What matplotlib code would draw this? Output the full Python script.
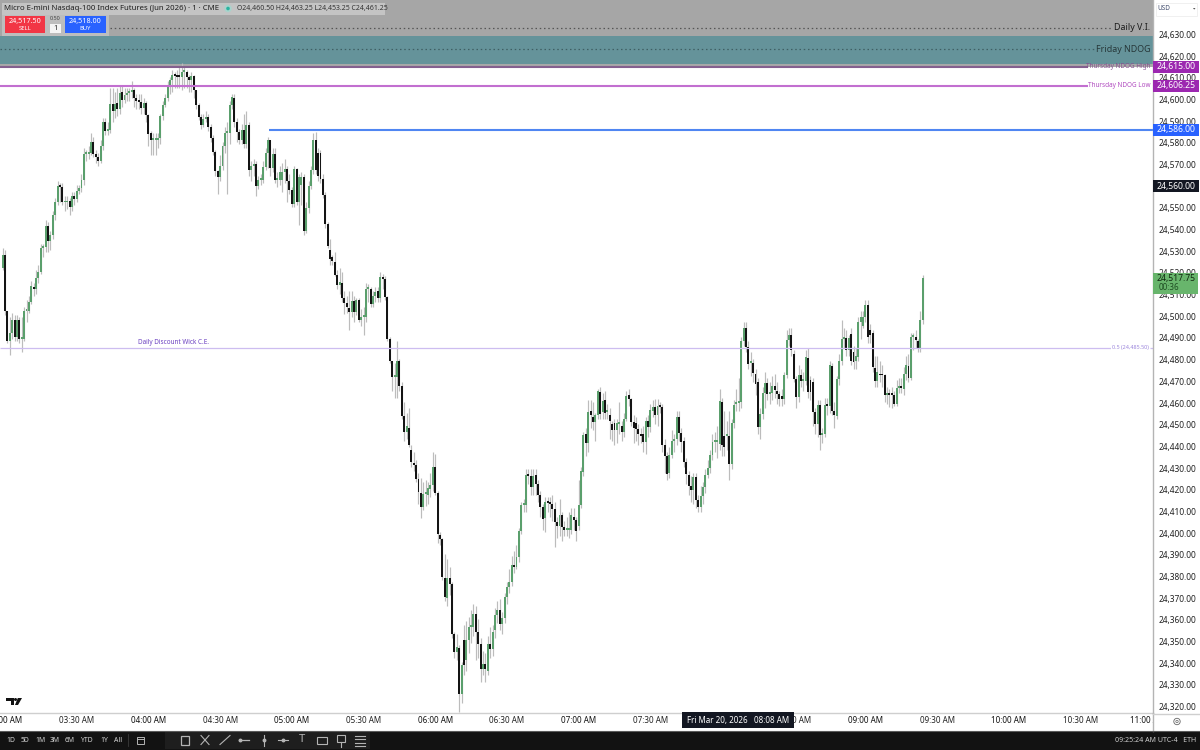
import numpy as np
import matplotlib
matplotlib.use('Agg')
import matplotlib.pyplot as plt
from matplotlib.patches import Rectangle, Circle, Polygon
from matplotlib.ticker import FuncFormatter

plt.rcParams['font.family'] = ['Noto Sans', 'DejaVu Sans']

# prices are stored as offset from the base, one row = 10 one minute bars
PRICE_BASE = 23999.5
opens = [
    523,529,503,489,493,499,491,499,490,490,503,
    503,507,514,513,518,521,532,532.5,542,535,
    538,547,553,560.5,560,553,553,553.5,551,556,
    554.5,558.5,559.5,563.5,575.5,575.5,576,581,575.5,574,
    572,579,590,586,586.5,598.5,595,599,596,604,
    600.5,602.5,603.5,604,605,601,600,599.5,596.5,599,
    593.5,585,582,582,582,582.7,593,598,601,606.7,
    609.3,612,611.3,611,611,613,613,611,609.3,611.3,
    604.7,597.8,592.4,588.6,591.7,592.4,587.8,582.7,576.3,567.4,
    564.8,570,579,585,585,597.8,601,590,585.5,581.7,
    586.3,580,588.6,567.8,570,570.9,560.6,563.2,563.2,569.4,
    576,581.7,569,575.5,563.2,563.2,563.2,567,568.3,563,
    558.6,552.4,568.3,553,561,564.8,540,550.6,560.6,567.8,
    582,576,576,564,556.6,543,531,527.8,525.5,519.4,
    515,516,509,506.8,504.4,502.5,507.4,502.5,507.8,499,
    500,500,513,513,506.3,510,512,508.8,518.6,517.8,
    509.4,489.8,479.7,472.5,472.5,480,468.5,454.5,447,449,
    439,433,432,425.6,419,412.5,418.7,418,421,422.5,
    431,419,399.5,397.6,380,370.6,379.8,377.2,354,345.7,
    347.5,326.4,351,341.8,351,357,357,363.3,355,349.5,
    337.7,340,337,349.5,347,355.6,362.5,365,358.7,361.5,
    371,375.6,378,385.6,385,389.5,401.3,413.3,413.6,427,
    426.7,421.8,427.5,423.3,418.2,412.5,407.5,415,414.5,414,
    411.8,405.6,403.8,408.7,403.3,402,402,402,408,406.4,
    403.8,413.6,428.7,446.4,442.2,456.6,454,451.7,455,465.6,
    456.4,461.7,456.4,455,451,451.4,447.9,451,449.9,447,
    453.3,464.3,462.5,451.7,451.5,448.7,446,446.3,442.5,452,
    449.4,457,458.6,454.8,459,458.6,441.2,436,428.3,436.6,
    442.8,444,454,446.8,443.2,433.3,427.5,422.2,420.2,426.3,
    415.6,412.5,417.6,421.7,427.1,430.5,436.6,442.5,442.5,441.7,
    460.9,445.5,445.5,445.5,432.5,451.4,460,460.6,460.9,488.9,
    495,486.3,478.9,478.9,474,470,449.4,455.5,465.2,469.8,
    464.8,465.2,468.3,466,464.8,463.5,462.2,473.2,489.4,492,
    483,471.7,463.2,473.5,470.5,470.5,481.2,470.9,470,456.3,
    450.9,459.4,445.9,446.3,459.4,459,477.5,457,454.5,471.4,
    480,490,490.5,484.8,492.4,484,480,481.7,497.8,496,
    500,505.8,494,492.9,476.6,470.5,474,473.5,473.2,464.3,
    464.3,464.3,464,460.2,467.4,468,467,474,477.5,472,
    491,491,489,485.8,499,
]
closes = [
    529,503,489,493,499,491,499,490,490,503,503,
    507,514.5,513,518,521,532,532.5,542,535,538,
    547,553,560.5,560,553,553,553.5,551,556,554.5,
    558.5,559.5,563.5,575.5,575.5,576,581,575.5,574,572,
    579,590,585.8,586.5,598.5,595,598.5,596,603.6,600.5,
    602.5,603.5,604,605,601,600,599.5,596.5,599,593.5,
    584.7,581.7,582,582,582.7,593,598,601,606.7,609.3,
    612,611.3,611,610.8,613.2,613,611,609.3,611.3,604.7,
    597.8,592.4,588.6,591.7,592.4,587.8,582.7,576.3,567.4,564.8,
    570,579,585,585,597.8,601.6,590,585.5,581.7,586.3,
    580,588.6,567.8,569.8,570.9,560.6,563.2,563.2,569.4,576,
    581.7,569,575.5,563.2,563.2,567,567,568.3,563,558.6,
    552.4,568.3,553,564.8,564.8,540,550.6,560.6,567.8,582,
    568,565,564,556.6,543,533,527,525.8,519.4,515,
    516.3,509,506.8,504.8,502.5,507.4,502.5,507.8,499,500,
    500,513,513,506.3,510,511.7,508.8,518.6,517.8,509.4,
    489.8,479.7,472.5,472.5,480,468.5,454.5,447,450,441,
    433.5,432,425.6,419.5,412.5,418.7,418.7,421.3,422.5,431,
    419,400,397.6,380.2,371,379.8,377,354,345.7,348,
    326.4,339.5,339.5,351,357,357,363.3,355,349.5,337.7,
    340.1,338,349.5,347,355,362.5,365,358.7,361.5,371,
    375.6,378,385.6,385,389.5,401.3,413.3,413.6,427.1,426.7,
    421.8,426.8,423.3,418.2,412.5,407,415,414.5,414,411.8,
    405.6,403.8,408.7,403.3,401.8,402,402.5,409,406.4,401.3,
    413.6,429,445.9,442.2,456.4,454.8,451.7,455,465.9,455.6,
    461.3,456,456.4,452,447.9,447.9,451.4,451,447,453.3,
    463.7,462.5,451.7,449,448.7,446,445.5,442.5,452,449.4,
    457.1,458.6,454.8,459,458.6,441.2,436,427.9,436.6,442.8,
    444,454,446.8,442.5,433.3,427.9,422.2,420.2,426.3,415.6,
    412.5,417.6,421.7,427.1,430.5,436.6,442.5,442.8,442.5,461.2,
    440.9,440.2,445.5,432.5,451.4,459.7,460.6,460.6,488.9,495,
    486.3,478.3,478.9,474.5,469.4,449.4,455.5,465.2,469.8,464.8,
    465.2,468.3,466.3,464.8,462.2,462.2,473.2,489.4,492,484.8,
    471.7,463.2,473.5,470.5,470.5,481.7,465.5,465.5,456.3,450.9,
    459.4,445.9,446.3,459.4,459,477.8,457,454.8,471.4,480,
    490.1,490.1,484.8,490.5,480,479.4,482,497.8,500,500,
    505.8,490.9,491.7,477,470.5,474.8,473.2,473.2,464.3,464.3,
    464,464,460.2,467.4,468.3,467.4,474,477.8,472,491,
    491,489.4,485.5,499,518.25,
]
highs = [
    532,531,503,500,502,501,501,500,500,505,508,
    510,517,516,522,524,534,534,545,544,540,
    549,555,563,562,562,556,556,555,558,558,
    561,561,566,578,577,579,585,583,577,576,
    582,592,592,590,606,606,604,606,607,607,
    606,606,606,609,606,603,603,603,601,600,
    594,586,585,585,585,594,600,603,609,611,
    614,613,614,616,617.5,616,614,612,613,612,
    605,599,594,594,595,594,589,584,577,568,
    575,581,588,590,600,603,603,592,587,589,
    594,595,590,572,573,572,565,566,572,578,
    583,582,578,578,567,570,571,573,570,566,
    560,570,569,566,567,566,553,563,570,585,
    585.5,578,577,566,558,544,536,529,530,522,
    523,521,512,510,512,512,510,509,509,504,
    505,516,515.5,514,512,514,514,521,520,519,
    510,491,480,479,489,481,470,461,456,458,
    441,438,434,428,426,424,425,424,428,438,
    437,420,401,398,391,388.7,385,378,355,354,
    349,341,358,360,362,365,368,367,361,352,
    346,345,353,357,358,366,369,370,364,373,
    378,384,390,392,395,403,415,416,430,430,
    430,430,430,425,420,414,417,417,417,418,
    415,408,416,410,406,408,410,412,412,408,
    425,431,447,449,462,462,461,456,467,468,
    465,466,460,458,452,453,453,461,452,456,
    466,467,463,455,454,451,449,450,454,455,
    460,462,462.5,462.5,461,460,444,438,440,448,
    446,457,457,449,445,435,429,427,428,428,
    418,422,424,430,434,439,446,447,450,467,
    463,457,452,457,453,462,467,472,491,498,
    498,489,484,481,476,472,458,468,475,472,
    470,473,474,470,466,467,475,494,495,495,
    485,473,477.8,476,475,485,486,473,472,458,
    462,462,449,463,463,480,479,461,473,483,
    499,495,494,492,495,487,486,500,503,503,
    508,508,497,494,482,482,480,478,474,468,
    467,468,466,471,472,472,477,482,483,493,
    493,494,490,503,519.5,
]
lows = [
    522,501,488,482.5,490,489,489,488,484,489,498,
    502,506,510,511,516,520,528,530,530,531,
    536,545,552,553,552,549,550,547,549,552,
    553,557,558,561,572,573,575,574,571,570,
    571,577,584,584,585,590,592,593,594,597,
    599,600,600,601,597,596,596,594,594,590,
    579,575,575,575,578,580,591,597,600,603,
    604,606,606,606,605,606,606,604,604,601,
    596,591,587,588,590,586,581,575,565,557,
    563,568,576,557,580,596,588,581,580,580,
    578,578,565,563,565,556,559,561,562,568,
    569,565,567,562,560,561,558,562,553,557,
    551,551,552,542.5,552,538,539,548,559,566,
    566,563,562,555,541,532,524,524,519,513,
    511,507,501.7,502,494,500,498,501,498,496,
    491.7,498,507,505,505,507,507,507,513,508,
    489,479,466,463,463,466,453,443,444,440,
    431,429,424,414,407.6,411,413,414,417,420,
    418,396,395,379,369,367,372,352,343,342,
    318,322,335,337,345,350,353,342,343,332,
    335,332,335,343,344,352,359,356,354,359,
    368,373,376,382,384,387,400,410,410,423,
    418,418,418,415,408,402,401,410,408,406,
    394,398,399,397,399,399,398,400,402,397,
    402,412,427,436,438,449,448,443,453,453,
    453,453,453,444,443,441,442,446,443,445,
    452,459,450,442,443,441,442,438,437,445,
    447,454,451,450,456,438,428,425,426,435,
    438,441,443,438,431,423,418,415,414,412,
    410,410,414,419,426,428,434,438,435,439,
    436,436,439,425,430,449,457,457,458,487,
    484,476,473,470,464,446,444,453,458,462,
    460,462,463,460,459,459,460,472,487,482,
    470,458,461,468,466,469,463,462,450,446,
    445,439,442,445,455,456,455,449,453,469,
    478,486,482,482,478,476,476,480,490,495,
    498,488,488,475,468,468,470,468,461,460,
    458.5,458,459,459,465,465,464,471,470,471,
    485,486,484,484,497,
]

price_ticks = list(range(24320, 24631, 10))
time_ticks = [0, 30, 60, 90, 120, 150, 180, 210, 240, 270, 300, 330, 360, 390, 420, 450, 478]
time_labels = ['03:00 AM', '03:30 AM', '04:00 AM', '04:30 AM', '05:00 AM', '05:30 AM', '06:00 AM',
               '06:30 AM', '07:00 AM', '07:30 AM', '08:00 AM', '08:30 AM', '09:00 AM', '09:30 AM',
               '10:00 AM', '10:30 AM', '11:00 AM']
range_buttons = ['1D', '5D', '1M', '3M', '6M', 'YTD', '1Y', 'All']
range_button_x = [11, 25, 40, 55, 70, 87, 104, 118]

opens = PRICE_BASE + np.array(opens)
closes = PRICE_BASE + np.array(closes)
highs = PRICE_BASE + np.array(highs)
lows = PRICE_BASE + np.array(lows)
minutes = np.arange(len(closes)) - 1

GREEN = '#5a9f6c'
BLACK = '#141414'
WICK = '#bcbcbc'
PURPLE_TAG = '#9c27b0'
BLUE = '#2962ff'
W, H = 1200.0, 750.0
X_MIN, X_MAX = -2.09, 480.3
Y_MIN, Y_MAX = 24317.0, 24645.9

fig = plt.figure(figsize=(12, 7.5), dpi=100, facecolor='white')
ax = fig.add_axes([0, 37 / H, 1153 / W, 713 / H])
ax.set_xlim(X_MIN, X_MAX)
ax.set_ylim(Y_MIN, Y_MAX)

# zones behind the candles
ax.axhspan(24629.3, Y_MAX, color='#a6a6a6', lw=0, zorder=0)
ax.axhspan(24616.4, 24629.3, color='#65939a', lw=0, zorder=0)
ax.axhspan(24615, 24616.4, color='#a8a8a8', lw=0, zorder=0)
ax.hlines(24633, 44, 463, color='#555555', lw=0.9, linestyles=(0, (1.2, 2.2)), zorder=1)
ax.hlines(24623.2, X_MIN, 457, color='#3f5f63', lw=0.9, linestyles=(0, (1.2, 2.2)), zorder=1)

up = closes >= opens
ax.vlines(minutes, lows, highs, color=WICK, lw=0.85, zorder=2)
heights = np.maximum(np.abs(closes - opens), 0.9)
bottoms = np.minimum(opens, closes)
ax.bar(minutes[up], heights[up], bottom=bottoms[up], width=0.82, color=GREEN, lw=0, zorder=3)
ax.bar(minutes[~up], heights[~up], bottom=bottoms[~up], width=0.82, color=BLACK, lw=0, zorder=3)

ax.hlines(24615, X_MIN, 453, color='#84608f', lw=1.5, zorder=4)
ax.hlines(24606.25, X_MIN, 453, color='#c26fd0', lw=1.5, zorder=4)
ax.hlines(24586, 110.6, X_MAX, color='#4f86f2', lw=1.5, zorder=4)
ax.hlines(24485.5, X_MIN, 475, color='#cdbdf0', lw=0.9, zorder=4)
ax.hlines(24485.5, 479, X_MAX, color='#cdbdf0', lw=0.9, zorder=4)

ax.text(70.5, 24487.8, 'Daily Discount Wick C.E.', fontsize=4.6, color='#6a3fc0', ha='center', va='center', zorder=5)
ax.text(478.5, 24485.7, '0.5 (24,485.50)', fontsize=3.9, color='#9c86dc', ha='right', va='center', zorder=5,
        bbox=dict(fc='white', ec='none', pad=0.6))
ax.text(479.3, 24633, 'Daily V.I.', fontsize=6.4, color='#1c1c1c', ha='right', va='center', zorder=5,
        fontweight='semibold', bbox=dict(fc='#a6a6a6', ec='none', pad=1))
ax.text(479.3, 24623.2, 'Friday NDOG', fontsize=6.4, color='#27383a', ha='right', va='center', zorder=5,
        fontweight='semibold', bbox=dict(fc='#65939a', ec='none', pad=1))
ax.text(479.3, 24615, 'Thursday NDOG High', fontsize=4.6, color='#84508f', ha='right', va='center', zorder=5)
ax.text(479.3, 24606.25, 'Thursday NDOG Low', fontsize=4.6, color='#b14cc0', ha='right', va='center', zorder=5)

ax.set_xticks(time_ticks)
ax.set_xticklabels(time_labels, fontsize=5.8, color='#222222')
for lab, t in zip(ax.get_xticklabels(), time_ticks):
    if t in (0, 60, 120, 180, 240, 300, 360, 420, 478):
        lab.set_fontweight('semibold')
        lab.set_color('#111111')
ax.tick_params(axis='x', length=0, pad=2.2)
ax.tick_params(axis='y', left=False, labelleft=False)
for s in ['top', 'right', 'left']:
    ax.spines[s].set_visible(False)
ax.spines['bottom'].set_color('#cfcfcf')
ax.spines['bottom'].set_linewidth(1.0)

# price scale panel, same y scale as the chart
ax_p = fig.add_axes([1153 / W, 37 / H, 47 / W, 713 / H], zorder=1, facecolor='white')
ax_p.set_xlim(0, 1)
ax_p.set_ylim(Y_MIN, Y_MAX)
ax_p.set_xticks([])
ax_p.yaxis.tick_right()
ax_p.set_yticks(price_ticks)
ax_p.yaxis.set_major_formatter(FuncFormatter(lambda v, p: f'{v:,.2f}'))
ax_p.tick_params(axis='y', length=0, pad=-30, labelsize=6.0, labelcolor='#222222')
for s in ['top', 'right', 'bottom']:
    ax_p.spines[s].set_visible(False)
ax_p.spines['left'].set_color('#b4b4b4')
ax_p.spines['left'].set_linewidth(1.0)

tags = [(24615, '24,615.00', PURPLE_TAG), (24606.25, '24,606.25', PURPLE_TAG),
        (24586, '24,586.00', BLUE), (24560, '24,560.00', '#131722')]
for price, label_txt, col in tags:
    ax_p.barh(price, 0.96, height=5.6, left=0.01, color=col, lw=0, zorder=5)
    ax_p.text(0.49, price, label_txt, color='white', fontsize=6.2, ha='center', va='center', zorder=6)
ax_p.barh(24515.15, 0.95, height=9.7, left=0.01, color='#68b56c', lw=0, zorder=5)
ax_p.text(0.49, 24517.6, '24,517.75', color='#10280f', fontsize=6.2, ha='center', va='center', zorder=6)
ax_p.text(0.13, 24513.4, '00:36', color='#1e4d22', fontsize=5.8, ha='left', va='center', zorder=6)

# chrome drawn in pixel coordinates on a top layer
ui = fig.add_axes([0, 0, 1, 1], zorder=3, facecolor='none')
ui.set_xlim(0, W)
ui.set_ylim(H, 0)
ui.axis('off')

def box(x, y, w, h, col, **kw):
    ui.add_patch(Rectangle((x, y), w, h, fc=col, ec=kw.pop('ec', 'none'), lw=kw.pop('lw', 0), **kw))

def label(x, y, s, size=6.2, col='white', ha='center', **kw):
    ui.text(x, y, s, fontsize=size, color=col, ha=ha, va='center', **kw)

# header
box(2, 3, 383, 12, '#c4c4c4')
box(2, 15, 107, 21, '#bdbdbd')
label(4, 8.5, 'Micro E-mini Nasdaq-100 Index Futures (Jun 2026) · 1 · CME', size=5.6, col='#1d1d1d', ha='left')
ui.add_patch(Circle((228, 8.5), 3.8, fc='#a9d3cc', ec='none'))
ui.add_patch(Circle((228, 8.5), 1.8, fc='#2bb3a0', ec='none'))
label(237, 8.5, 'O24,460.50 H24,463.25 L24,453.25 C24,461.25', size=5.0, col='#333333', ha='left')
box(5, 16, 40, 17, '#f23645')
label(25, 21, '24,517.50', size=5.2, fontweight='bold')
label(25, 28.5, 'SELL', size=4.2)
box(65, 16, 41, 17, BLUE)
label(85.5, 21, '24,518.00', size=5.2, fontweight='bold')
label(85.5, 28.5, 'BUY', size=4.2)
label(55, 19, '0.50', size=3.9, col='#444444')
box(50, 24, 11, 9, '#f4f4f4')
label(55.5, 28.5, '1', size=5.2, col='#222222')

# USD selector
box(1156, 3, 41, 13, 'white', ec='#eeeeee', lw=0.6)
label(1157, 8.5, 'USD', size=4.6, col='#3f4a6b', ha='left')
ui.add_patch(Polygon([[1193, 8], [1195.5, 8], [1194.2, 9.6]], fc='#555555', ec='none'))

# crosshair time tag and scale corner
box(1153, 714, 47, 17, 'white')
ui.plot([1153, 1153], [713, 731], color='#b4b4b4', lw=1.0)
ui.plot([1153, 1200], [713.5, 713.5], color='#cfcfcf', lw=1.0)
ui.add_patch(Circle((1177, 721.5), 3.2, fc='none', ec='#666666', lw=0.6))
ui.add_patch(Circle((1177, 721.5), 1.2, fc='none', ec='#666666', lw=0.5))
box(682, 712, 112, 16, '#131722')
label(738, 720.5, 'Fri Mar 20, 2026   08:08 AM', size=5.8)

# tradingview logo
ui.add_patch(Polygon([[6, 698], [14, 698], [14, 705], [11, 705], [11, 701], [6, 701]], fc='#111111', ec='none'))
ui.add_patch(Polygon([[15, 705], [17.8, 698], [22, 698], [18, 705]], fc='#111111', ec='none'))
ui.add_patch(Circle((15.5, 699.5), 1.5, fc='#111111', ec='none'))

# bottom toolbar
box(0, 731, W, 19, '#121212')
ui.plot([0, W], [730.5, 730.5], color='#5a5a5a', lw=0.8)
for bx, b in zip(range_button_x, range_buttons):
    label(bx, 740, b, size=4.9, col='#d8d8d8')
ui.plot([128, 128], [734, 746], color='#3a3a3a', lw=0.6)
box(165, 732, 205, 17, '#1e1e1e')

ic = '#b4b4b4'
ui.add_patch(Rectangle((136.5, 736.5), 7, 7, fc='none', ec=ic, lw=0.7))
ui.plot([136.5, 143.5], [738.5, 738.5], color=ic, lw=0.7)
ui.add_patch(Rectangle((181, 735.5), 8, 9, fc='none', ec=ic, lw=0.9))
ui.plot([201, 209], [735.5, 744.5], color=ic, lw=0.8)
ui.plot([209, 201], [735.5, 744.5], color=ic, lw=0.8)
ui.plot([220, 230], [744.5, 735.5], color=ic, lw=0.8)
ui.plot([239, 249], [740, 740], color=ic, lw=0.9)
ui.plot([239.5], [740], 'o', ms=1.8, color=ic)
ui.plot([264, 264], [734.5, 745.5], color=ic, lw=0.8)
ui.plot([264], [740], 'o', ms=1.8, color=ic)
ui.plot([278, 288], [740, 740], color=ic, lw=0.8)
ui.plot([283], [740], 'o', ms=1.8, color=ic)
label(302, 740, 'T', size=8, col=ic)
ui.add_patch(Rectangle((317, 736.5), 10, 7, fc='none', ec=ic, lw=0.8))
ui.add_patch(Rectangle((337, 734.5), 8, 7, fc='none', ec=ic, lw=0.8))
ui.plot([341, 341], [741.5, 746.5], color=ic, lw=0.8)
for ty in [735.5, 739, 742.5, 745.5]:
    ui.plot([355, 365], [ty, ty], color=ic, lw=0.8)
label(1196, 740, '09:25:24 AM UTC-4   ETH', size=5.1, col='#cfcfcf', ha='right')

fig.savefig('out.png', dpi=100)
